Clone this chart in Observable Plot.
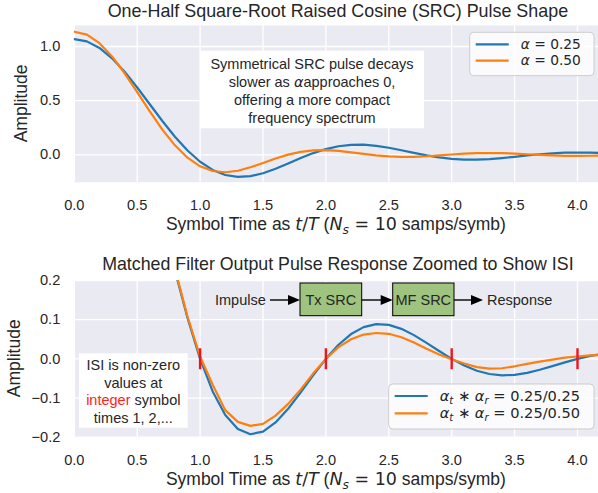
<!DOCTYPE html>
<html><head><meta charset="utf-8">
<script src="https://cdn.jsdelivr.net/npm/d3@7"></script>
<script src="https://cdn.jsdelivr.net/npm/@observablehq/plot@0.6"></script>
<style>
html,body{margin:0;padding:0;background:#fff;}
#chart{position:relative;width:598px;height:493px;overflow:hidden;background:#fff;}
#chart svg{position:absolute;left:0;}
</style></head><body><div id="chart"></div>
<script>
// ---------- data ----------
const symbolTime = [0.0,0.1,0.2,0.3,0.4,0.5,0.6,0.7,0.8,0.9,1.0,1.1,1.2,1.3,1.4,1.5,1.6,1.7,1.8,1.9,2.0,2.1,2.2,2.3,2.4,2.5,2.6,2.7,2.8,2.9,3.0,3.1,3.2,3.3,3.4,3.5,3.6,3.7,3.8,3.9,4.0,4.1,4.2];
// top: one-half SRC pulse, alpha = 0.25 and 0.50
const src025 = [1.0683,1.0475,0.9871,0.8910,0.7664,0.6218,0.4670,0.3122,0.1670,0.0393,-0.0642,-0.1399,-0.1863,-0.2044,-0.1974,-0.1703,-0.1291,-0.0803,-0.0301,0.0158,0.0531,0.0789,0.0922,0.0931,0.0832,0.0653,0.0424,0.0179,-0.0051,-0.0242,-0.0375,-0.0443,-0.0447,-0.0395,-0.0301,-0.0183,-0.0060,0.0052,0.0139,0.0194,0.0212,0.0197,0.0156];
const src050 = [1.1366,1.1095,1.0309,0.9083,0.7529,0.5786,0.4007,0.2330,0.0875,-0.0269,-0.1061,-0.1497,-0.1612,-0.1470,-0.1154,-0.0750,-0.0339,0.0014,0.0267,0.0403,0.0424,0.0355,0.0228,0.0081,-0.0054,-0.0150,-0.0194,-0.0186,-0.0134,-0.0055,0.0030,0.0104,0.0153,0.0168,0.0151,0.0107,0.0049,-0.0011,-0.0061,-0.0093,-0.0101,-0.0087,-0.0057];
// bottom: matched filter output pulse
const mf025_025 = [1.0000,0.9830,0.9333,0.8539,0.7498,0.6274,0.4940,0.3575,0.2253,0.1042,0.0000,-0.0832,-0.1432,-0.1792,-0.1925,-0.1856,-0.1624,-0.1274,-0.0855,-0.0417,0.0000,0.0359,0.0633,0.0810,0.0886,0.0866,0.0766,0.0606,0.0409,0.0200,0.0000,-0.0172,-0.0303,-0.0386,-0.0420,-0.0407,-0.0357,-0.0279,-0.0186,-0.0090,0.0000,0.0075,0.0129];
const mf025_050 = [1.0000,0.9830,0.9340,0.8560,0.7530,0.6320,0.5000,0.3650,0.2300,0.1080,0.0060,-0.0660,-0.1310,-0.1610,-0.1710,-0.1660,-0.1450,-0.1150,-0.0780,-0.0370,0.0000,0.0300,0.0500,0.0620,0.0660,0.0640,0.0550,0.0420,0.0260,0.0110,-0.0010,-0.0120,-0.0210,-0.0250,-0.0240,-0.0190,-0.0130,-0.0070,-0.0020,0.0030,0.0060,0.0090,0.0100];

const xTicks = [0,0.5,1.0,1.5,2.0,2.5,3.0,3.5,4.0];
const yTicksTop = [0,0.5,1.0];
const yTicksBottom = [-0.2,-0.1,0,0.1,0.2];
const titles = ["One-Half Square-Root Raised Cosine (SRC) Pulse Shape", "Matched Filter Output Pulse Response Zoomed to Show ISI"];
const yLabel = "Amplitude";
const topLegend = ["0.25","0.50"];
const bottomLegend = ["0.25/0.25","0.25/0.50"];
const noteLines = ["Symmetrical SRC pulse decays", "slower as ", "approaches 0,", "offering a more compact", "frequency spectrum"];
const isiLines = ["ISI is non-zero", "values at", "integer", " symbol", "times 1, 2,..."];
const blocks = ["Impulse", "Tx SRC", "MF SRC", "Response"];

// ---------- style ----------
const SANS = "'Liberation Sans', Arial, Helvetica, sans-serif";
const MATH = "'DejaVu Sans', sans-serif";
const INK = "#262626";
const FACE = "#EAEAF2";
const BLUE = "#1f77b4", ORANGE = "#ff7f0e";
const X_DOMAIN = [0, 4.167];
const W = 598;

const vbar = {draw(ctx, size) { const r = Math.sqrt(size / Math.PI); ctx.moveTo(0, -r); ctx.lineTo(0, r); }};

function panel({height, marginTop, marginBottom, yDomain, yTicks, lines, markers}) {
  const marks = [
    Plot.frame({fill: FACE, stroke: "none"}),
    Plot.gridX({ticks: xTicks, stroke: "#ffffff", strokeOpacity: 1, strokeWidth: 1.3}),
    Plot.gridY({ticks: yTicks, stroke: "#ffffff", strokeOpacity: 1, strokeWidth: 1.3}),
    Plot.axisX({ticks: xTicks, tickSize: 0, tickPadding: 17, tickFormat: d3.format(".1f"), label: null}),
    Plot.axisY({ticks: yTicks, tickSize: 0, tickPadding: 14, tickFormat: d3.format(".1f"), label: null}),
    ...lines.map(l => Plot.lineY(l.values, {x: symbolTime, stroke: l.color, strokeWidth: 2.2, clip: true}))
  ];
  if (markers) {
    const idx = symbolTime.map((t, i) => i).filter(i => i > 0 && i % 10 === 0);
    marks.push(Plot.dot(idx, {x: i => symbolTime[i], y: i => markers[i], symbol: vbar, r: 10.5,
      stroke: "#f0141e", strokeWidth: 2.4, fill: "none", clip: true}));
  }
  return Plot.plot({
    width: W, height, marginLeft: 73.8, marginRight: 0, marginTop, marginBottom,
    style: {fontFamily: SANS, fontSize: "14.6px", color: INK, background: "none", overflow: "visible"},
    x: {domain: X_DOMAIN, label: null},
    y: {domain: yDomain, label: null},
    marks
  });
}

function richText(sel, x, y, parts, {size = 14.5, anchor = "start", family = SANS, fill = INK} = {}) {
  const t = sel.append("text").attr("x", x).attr("y", y).attr("text-anchor", anchor).attr("fill", fill)
    .style("font-family", family).style("font-size", size + "px").style("white-space", "pre");
  let shift = 0;
  for (const p0 of parts) {
    const p = typeof p0 === "string" ? {t: p0} : p0;
    const ts = t.append("tspan").text(p.t);
    if (p.f) ts.style("font-family", p.f);
    if (p.i) ts.style("font-style", "italic");
    if (p.c) ts.attr("fill", p.c);
    const want = p.sub ? size * 0.22 : 0;
    if (want !== shift) { ts.attr("dy", want - shift); shift = want; }
    if (p.sub) ts.style("font-size", (size * 0.7) + "px");
  }
  return t;
}

function xAxisLabel(s, cx, y) {
  richText(s, cx, y, [
    "Symbol Time as ",
    {t: "t", f: MATH, i: 1}, {t: "/", f: MATH}, {t: "T", f: MATH, i: 1},
    " (",
    {t: "N", f: MATH, i: 1}, {t: "s", f: MATH, i: 1, sub: 1}, {t: " = 10", f: MATH},
    " samps/symb)"
  ], {size: 17.5, anchor: "middle"});
}
function yAxisLabel(s, x, y) {
  s.append("text").attr("transform", `translate(${x},${y}) rotate(-90)`).attr("text-anchor", "middle")
    .attr("fill", INK).style("font-family", SANS).style("font-size", "17.5px").text(yLabel);
}
function legend(s, box, items, size) {
  s.append("rect").attr("x", box.x).attr("y", box.y).attr("width", box.w).attr("height", box.h)
    .attr("rx", 4).attr("fill", "#ffffff").attr("fill-opacity", 0.8).attr("stroke", "#cccccc").attr("stroke-width", 1);
  items.forEach(it => {
    s.append("line").attr("x1", box.x + 6).attr("x2", box.x + 39).attr("y1", it.y).attr("y2", it.y)
      .attr("stroke", it.color).attr("stroke-width", 2.2);
    richText(s, box.x + 51, it.y + size * 0.34, it.parts, {size, family: MATH});
  });
}
function arrow(s, x1, x2, y) {
  s.append("line").attr("x1", x1).attr("x2", x2 - 10).attr("y1", y).attr("y2", y).attr("stroke", "#000").attr("stroke-width", 1.4);
  s.append("path").attr("d", `M${x2},${y}L${x2 - 12},${y - 5}L${x2 - 12},${y + 5}Z`).attr("fill", "#000");
}

const root = document.getElementById("chart");

// ---------- top panel ----------
const topSvg = panel({height: 240, marginTop: 25, marginBottom: 58.3, yDomain: [-0.253, 1.194], yTicks: yTicksTop,
  lines: [{values: src025, color: BLUE}, {values: src050, color: ORANGE}]});
topSvg.style.top = "0px";
root.appendChild(topSvg);
{
  const s = d3.select(topSvg), cx = (73.8 + W) / 2;
  richText(s, cx + 2, 17, [titles[0]], {size: 17.9, anchor: "middle"});
  xAxisLabel(s, cx, 230);
  yAxisLabel(s, 27, 103.4);
  s.append("rect").attr("x", 200).attr("y", 50.7).attr("width", 224).attr("height", 77.6).attr("fill", "#fff");
  const nx = 312;
  richText(s, nx, 69, [noteLines[0]], {anchor: "middle"});
  richText(s, nx, 87, [noteLines[1], {t: "α", f: MATH, i: 1}, noteLines[2]], {anchor: "middle"});
  richText(s, nx, 105, [noteLines[3]], {anchor: "middle"});
  richText(s, nx, 123, [noteLines[4]], {anchor: "middle"});
  legend(s, {x: 469.7, y: 32.3, w: 124.3, h: 43.4}, [
    {y: 44.3, color: BLUE, parts: [{t: "α", i: 1}, " = " + topLegend[0]]},
    {y: 60.6, color: ORANGE, parts: [{t: "α", i: 1}, " = " + topLegend[1]]}
  ], 13.8);
}

// ---------- bottom panel ----------
const botSvg = panel({height: 253, marginTop: 40, marginBottom: 56.3, yDomain: [-0.2, 0.2], yTicks: yTicksBottom,
  lines: [{values: mf025_025, color: BLUE}, {values: mf025_050, color: ORANGE}], markers: mf025_025});
botSvg.style.top = "240px";
root.appendChild(botSvg);
{
  const s = d3.select(botSvg), cx = (73.8 + W) / 2;
  richText(s, cx + 2, 30, [titles[1]], {size: 17.8, anchor: "middle"});
  xAxisLabel(s, cx, 245);
  yAxisLabel(s, 20, 118.3);
  // block diagram
  const by = 60;
  richText(s, 215, 64.5, [blocks[0]]);
  arrow(s, 270, 300, by);
  s.append("rect").attr("x", 300).attr("y", 43).attr("width", 61.7).attr("height", 32.7).attr("fill", "#9ec480").attr("stroke", "#000").attr("stroke-width", 1);
  richText(s, 330.8, 64.5, [blocks[1]], {anchor: "middle"});
  arrow(s, 361.7, 392.7, by);
  s.append("rect").attr("x", 392.7).attr("y", 43).attr("width", 61.3).attr("height", 32.7).attr("fill", "#9ec480").attr("stroke", "#000").attr("stroke-width", 1);
  richText(s, 423.3, 64.5, [blocks[2]], {anchor: "middle"});
  arrow(s, 454, 483, by);
  richText(s, 487, 64.5, [blocks[3]]);
  // ISI note
  s.append("rect").attr("x", 79).attr("y", 113.3).attr("width", 108.7).attr("height", 74.4).attr("fill", "#fff");
  const ix = 133.3;
  richText(s, ix, 130.3, [isiLines[0]], {anchor: "middle"});
  richText(s, ix, 147.8, [isiLines[1]], {anchor: "middle"});
  richText(s, ix, 165.3, [{t: isiLines[2], c: "#ff2020"}, isiLines[3]], {anchor: "middle"});
  richText(s, ix, 182.8, [isiLines[4]], {anchor: "middle"});
  legend(s, {x: 388.7, y: 144, w: 205.3, h: 45}, [
    {y: 156, color: BLUE, parts: [{t: "α", i: 1}, {t: "t", i: 1, sub: 1}, " ∗ ", {t: "α", i: 1}, {t: "r", i: 1, sub: 1}, " = " + bottomLegend[0]]},
    {y: 173.3, color: ORANGE, parts: [{t: "α", i: 1}, {t: "t", i: 1, sub: 1}, " ∗ ", {t: "α", i: 1}, {t: "r", i: 1, sub: 1}, " = " + bottomLegend[1]]}
  ], 14.6);
}
</script>
</body></html>
